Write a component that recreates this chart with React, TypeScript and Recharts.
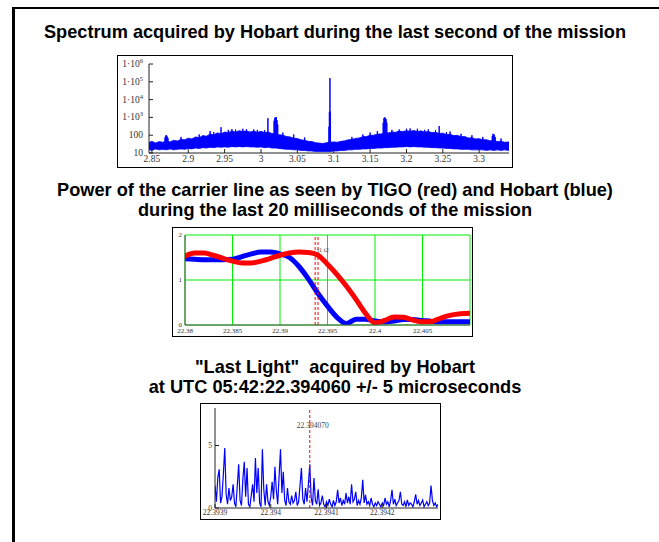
import React from 'react';
import { ComposedChart, LineChart, Line, Area, XAxis, YAxis, CartesianGrid, ReferenceLine } from 'recharts';

// ---------- Chart 1: spectrum (log scale) ----------
const specX = [
  2.845, 2.85, 2.855, 2.86, 2.865, 2.87, 2.875, 2.88, 2.885, 2.89,
  2.895, 2.9, 2.905, 2.91, 2.915, 2.92, 2.925, 2.93, 2.935, 2.94,
  2.945, 2.95, 2.955, 2.96, 2.965, 2.97, 2.975, 2.98, 2.985, 2.99,
  2.995, 3.0, 3.005, 3.01, 3.015, 3.02, 3.025, 3.03, 3.035, 3.04,
  3.045, 3.05, 3.055, 3.06, 3.065, 3.07, 3.075, 3.08, 3.085, 3.09,
  3.095, 3.1, 3.105, 3.11, 3.115, 3.12, 3.125, 3.13, 3.135, 3.14,
  3.145, 3.15, 3.155, 3.16, 3.165, 3.17, 3.175, 3.18, 3.185, 3.19,
  3.195, 3.2, 3.205, 3.21, 3.215, 3.22, 3.225, 3.23, 3.235, 3.24,
  3.245, 3.25, 3.255, 3.26, 3.265, 3.27, 3.275, 3.28, 3.285, 3.29,
  3.295, 3.3, 3.305, 3.31, 3.315, 3.32, 3.325, 3.33, 3.335, 3.34, 3.345,
];
const specHi = [
  38, 45, 36, 44, 40, 48, 42, 52, 47, 58,
  55, 68, 62, 80, 72, 95, 88, 115, 105, 135,
  120, 150, 140, 170, 150, 180, 160, 175, 150, 170,
  145, 165, 140, 150, 125, 120, 105, 100, 85, 80,
  68, 65, 55, 52, 45, 44, 38, 36, 34, 38,
  40, 42, 40, 45, 48, 55, 58, 66, 70, 82,
  85, 98, 100, 115, 118, 130, 135, 150, 145, 170,
  160, 180, 165, 185, 160, 175, 150, 160, 140, 145,
  125, 130, 110, 112, 95, 98, 82, 85, 70, 72,
  62, 64, 55, 56, 48, 50, 44, 46, 40, 42, 38,
];
const specLo = [
  16, 14, 17, 15, 16, 15, 17, 15, 16, 17,
  16, 18, 17, 19, 18, 20, 19, 21, 20, 22,
  21, 22, 21, 23, 22, 23, 22, 23, 22, 22,
  21, 22, 20, 21, 19, 19, 18, 17, 16, 16,
  15, 15, 14, 14, 13, 13, 12, 12, 12, 12,
  12, 13, 13, 14, 14, 15, 15, 16, 16, 17,
  17, 18, 18, 19, 19, 20, 20, 21, 21, 22,
  22, 23, 22, 23, 22, 22, 21, 21, 20, 20,
  19, 19, 18, 18, 17, 17, 16, 16, 16, 15,
  15, 15, 15, 14, 15, 14, 15, 14, 15, 14, 15,
];
// narrow lines standing out of the noise band (sorted by frequency)
const spikeX = [
  2.868, 2.869, 2.87, 2.871, 2.872,
  2.89, 2.915, 2.93, 2.935, 2.945, 2.955, 2.96, 2.965, 2.975, 2.98, 2.99, 2.995, 3.005,
  3.0095, 3.018, 3.019, 3.02, 3.021, 3.022, 3.023,
  3.03, 3.045, 3.06,
  3.0935, 3.094, 3.0945, 3.0948, 3.095, 3.0955,
  3.125, 3.14, 3.15, 3.16,
  3.168, 3.169, 3.17, 3.171, 3.172, 3.173,
  3.18, 3.19, 3.2, 3.205, 3.215, 3.225, 3.23, 3.24, 3.245, 3.255, 3.26, 3.275, 3.29, 3.305,
  3.318, 3.319, 3.32, 3.321, 3.322, 3.33,
];
const spikeTop = [
  75, 95, 100, 85, 70,
  80, 110, 170, 150, 280, 200, 220, 210, 230, 220, 210, 200, 190,
  900, 650, 950, 1000, 1050, 700, 400,
  140, 110, 75,
  300, 2000, 2200, 160000, 1800, 400,
  80, 110, 140, 170,
  500, 900, 1000, 950, 800, 500,
  200, 210, 230, 240, 230, 200, 210, 190, 330, 150, 160, 120, 100, 80,
  90, 120, 110, 105, 80, 65,
];
const SPIKE_BASE = 25;
const specXTicks = [2.85, 2.9, 2.95, 3, 3.05, 3.1, 3.15, 3.2, 3.25, 3.3];
const specYTicks = [10, 100, 1000, 10000, 100000, 1000000];

// ---------- Chart 2: carrier power ----------
const carrierT = [
  22.38, 22.381, 22.382, 22.383, 22.384, 22.385, 22.386, 22.387, 22.388, 22.389,
  22.39, 22.391, 22.392, 22.393, 22.394, 22.395, 22.396, 22.397, 22.398, 22.399,
  22.4, 22.401, 22.402, 22.403, 22.404, 22.405, 22.406, 22.407, 22.408, 22.409, 22.41,
];
const hobartPower = [
  1.47, 1.46, 1.45, 1.45, 1.45, 1.46, 1.52, 1.58, 1.62, 1.62,
  1.58, 1.5, 1.3, 1.02, 0.7, 0.42, 0.17, 0.03, 0.13, 0.13,
  0.09, 0.07, 0.09, 0.12, 0.12, 0.1, 0.08, 0.07, 0.07, 0.07, 0.07,
];
const tigoPower = [
  1.53, 1.6, 1.6, 1.55, 1.48, 1.42, 1.38, 1.38, 1.42, 1.48,
  1.55, 1.6, 1.62, 1.61, 1.55, 1.35, 1.12, 0.86, 0.57, 0.26,
  0.05, 0.1, 0.18, 0.17, 0.11, 0.07, 0.08, 0.16, 0.22, 0.25, 0.26,
];
const carrierXTicks = [22.38, 22.385, 22.39, 22.395, 22.4, 22.405];
const carrierYTicks = [0, 1, 2];
const T1 = 22.3937;
const T2 = 22.394;

// ---------- Chart 3: last light ----------
const LL_T0 = 22.3939;
const LL_DT = 0.0000025;
const lastLight = [
  1.8, 0.5, 2.4, 3.1, 0.4, 0.9, 2.7, 4.8, 1.1, 0.3,
  1.6, 0.6, 0.9, 1.9, 0.4, 0.1, 1.8, 3.5, 0.6, 0.2,
  2.3, 3.7, 0.9, 3.2, 0.3, 0.1, 1.0, 1.9, 0.5, 4.0,
  1.2, 3.2, 0.4, 0.1, 4.7, 1.5, 0.2, 1.9, 0.5, 0.2,
  0.9, 2.1, 0.7, 3.3, 1.4, 0.3, 2.6, 4.7, 1.2, 2.9,
  0.6, 0.2, 1.6, 0.5, 0.3, 1.0, 0.4, 0.6, 1.3, 0.2,
  0.5, 1.8, 3.2, 0.7, 0.3, 1.6, 0.5, 1.9, 3.5, 0.8,
  0.2, 2.4, 0.6, 0.3, 1.5, 0.2, 0.4, 1.0, 0.3, 0.1,
  0.5, 0.2, 0.7, 0.3, 0.1, 0.6, 0.2, 0.5, 1.45, 0.4,
  0.8, 0.2, 0.6, 0.3, 1.2, 0.4, 0.9, 0.3, 1.9, 0.5,
  0.7, 1.3, 0.2, 0.6, 0.3, 0.8, 2.25, 0.4, 1.05, 0.3,
  0.5, 0.2, 0.8, 0.3, 0.1, 0.4, 0.2, 0.5, 0.3, 0.1,
  0.4, 0.2, 0.8, 0.3, 0.5, 0.1, 0.6, 1.45, 0.3, 0.7,
  0.2, 0.4, 0.6, 1.3, 0.3, 0.2, 0.5, 0.1, 0.65, 0.2,
  0.4, 0.3, 0.1, 0.5, 1.1, 0.3, 0.6, 0.2, 0.4, 0.65,
  0.1, 0.3, 0.5, 0.2, 0.4, 1.8, 0.6, 0.2, 0.4, 0.1, 0.3,
];
const llXTicks = [22.3939, 22.394, 22.3941, 22.3942];
const llYTicks = [0, 5];
const LAST_LIGHT_T = 22.39407;
const LAST_LIGHT_LABEL = '22.394070';

// ---------- tables ----------
const bandData = specX.map((x, i) => ({ x, band: [specLo[i], specHi[i]] }));
const spikeData = spikeX.flatMap((x, i) => [
  { x, v: SPIKE_BASE },
  { x, v: spikeTop[i] },
  { x, v: SPIKE_BASE },
]);
const carrierData = carrierT.map((t, i) => ({ t, hobart: hobartPower[i], tigo: tigoPower[i] }));
const llData = lastLight.map((v, i) => ({ t: LL_T0 + i * LL_DT, v }));

const SERIF = '"Liberation Serif", "Times New Roman", serif';
const SANS = '"Liberation Sans", Arial, sans-serif';
const TICK_COLOR = '#333';

const SpecYTick = (props: any) => {
  const { x, y, payload } = props;
  const v = payload.value as number;
  const exp = Math.round(Math.log10(v));
  if (exp <= 2) {
    return (
      <text x={x} y={y} dy={3} textAnchor="end" fontFamily={SERIF} fontSize={9.5} fill={TICK_COLOR}>
        {String(v)}
      </text>
    );
  }
  return (
    <text x={x} y={y} dy={3} textAnchor="end" fontFamily={SERIF} fontSize={9.5} fill={TICK_COLOR}>
      <tspan>1·10</tspan>
      <tspan dy={-4} fontSize={6.5}>{exp}</tspan>
    </text>
  );
};

const RefLabel = (props: any) => {
  const { viewBox, text, dy, dx, size } = props;
  if (!viewBox) return null;
  return (
    <text x={viewBox.x + (dx || 0)} y={viewBox.y + dy} textAnchor="middle" fontFamily={SERIF} fontSize={size} fill="#444">
      {text}
    </text>
  );
};

const titleStyle: React.CSSProperties = {
  position: 'absolute',
  left: 0,
  width: 670,
  textAlign: 'center',
  fontFamily: SANS,
  fontWeight: 700,
  fontSize: 18.2,
  lineHeight: '20px',
  color: '#000',
  whiteSpace: 'pre',
};

const frame = (left: number, top: number, width: number, height: number): React.CSSProperties => ({
  position: 'absolute',
  left,
  top,
  width,
  height,
  border: '1.5px solid #000',
  boxSizing: 'border-box',
  pointerEvents: 'none',
});

const abs = (left: number, top: number): React.CSSProperties => ({ position: 'absolute', left, top });

export default function App() {
  const tickStyle1 = { fontFamily: SERIF, fontSize: 9.5, fill: TICK_COLOR };
  const tickStyle2 = { fontFamily: SERIF, fontSize: 7, fill: TICK_COLOR };
  const tickStyle3 = { fontFamily: SERIF, fontSize: 7.5, fill: TICK_COLOR };
  const specDomain: [number, number] = [2.846, 3.341];
  const llDomain: [number, number] = [22.3939, 22.3943];
  return (
    <div style={{ position: 'absolute', left: 0, top: 0, width: 659, height: 542, background: '#fff', overflow: 'hidden' }}>
      {/* page frame */}
      <div style={{ position: 'absolute', left: 12, top: 7, width: 700, height: 600, borderTop: '2px solid #000', borderLeft: '3px solid #000' }} />

      <div style={{ ...titleStyle, top: 22 }}>Spectrum acquired by Hobart during the last second of the mission</div>

      {/* chart 1 */}
      <div style={abs(117, 55)}>
        <ComposedChart width={396} height={113} data={bandData} margin={{ top: 9, right: 4, bottom: 0, left: 2 }}>
          <XAxis dataKey="x" type="number" domain={specDomain} allowDataOverflow ticks={specXTicks}
            tickSize={-4} tickMargin={6} height={15} stroke="#222" tick={tickStyle1} interval={0} />
          <XAxis xAxisId="top" orientation="top" type="number" domain={specDomain} allowDataOverflow ticks={specXTicks}
            tickSize={-4} height={0} stroke="#222" tickFormatter={() => ''} interval={0} />
          <YAxis type="number" scale="log" domain={[10, 1000000]} allowDataOverflow ticks={specYTicks}
            tickSize={-4} tickMargin={10} width={30} stroke="#222" tick={<SpecYTick />} interval={0} />
          <YAxis yAxisId="right" orientation="right" type="number" scale="log" domain={[10, 1000000]} allowDataOverflow
            ticks={specYTicks} tickSize={-4} width={0} stroke="#222" tickFormatter={() => ''} interval={0} />
          <Area dataKey="band" type="linear" stroke="#0000ff" strokeWidth={0.8} fill="#0000ff" fillOpacity={1}
            isAnimationActive={false} dot={false} activeDot={false} />
          <Line data={spikeData} dataKey="v" type="linear" stroke="#0000ff" strokeWidth={1} dot={false}
            activeDot={false} isAnimationActive={false} />
        </ComposedChart>
      </div>
      <div style={frame(117, 55, 396, 113)} />

      <div style={{ ...titleStyle, top: 180 }}>
        {'Power of the carrier line as seen by TIGO (red) and Hobart (blue)\nduring the last 20 milliseconds of the mission'}
      </div>

      {/* chart 2 */}
      <div style={abs(172, 227)}>
        <LineChart width={301} height={110} data={carrierData} margin={{ top: 8, right: 3, bottom: 0, left: 1 }}>
          <CartesianGrid stroke="#00ee00" strokeWidth={1} />
          <XAxis dataKey="t" type="number" domain={[22.38, 22.41]} allowDataOverflow ticks={carrierXTicks}
            tickLine={false} tickSize={0} tickMargin={3} height={12} stroke="#555" tick={tickStyle2} interval={0} />
          <XAxis xAxisId="top" orientation="top" type="number" domain={[22.38, 22.41]} allowDataOverflow
            ticks={carrierXTicks} tickLine={false} height={0} stroke="#555" tickFormatter={() => ''} interval={0} />
          <YAxis type="number" domain={[0, 2]} allowDataOverflow ticks={carrierYTicks} tickLine={false}
            tickSize={0} tickMargin={3} width={12} stroke="#555" tick={tickStyle2} interval={0} />
          <YAxis yAxisId="right" orientation="right" type="number" domain={[0, 2]} allowDataOverflow
            ticks={carrierYTicks} tickLine={false} width={0} stroke="#555" tickFormatter={() => ''} interval={0} />
          <Line dataKey="hobart" type="monotone" stroke="#0000ff" strokeWidth={5} dot={false} activeDot={false}
            isAnimationActive={false} />
          <Line dataKey="tigo" type="monotone" stroke="#ff0000" strokeWidth={5} dot={false} activeDot={false}
            isAnimationActive={false} />
          <ReferenceLine x={T1} stroke="#ff0000" strokeWidth={1} strokeDasharray="3 2" />
          <ReferenceLine x={T2} stroke="#ff0000" strokeWidth={1} strokeDasharray="3 2"
            label={<RefLabel text="t1 t2" dy={17} dx={5} size={6.5} />} />
        </LineChart>
      </div>
      <div style={frame(172, 227, 301, 110)} />

      <div style={{ ...titleStyle, top: 357 }}>
        {'"Last Light"  acquired by Hobart\nat UTC 05:42:22.394060 +/- 5 microseconds'}
      </div>

      {/* chart 3 */}
      <div style={abs(200, 403)}>
        <LineChart width={241} height={117} data={llData} margin={{ top: 5, right: 3, bottom: 0, left: 1 }}>
          <XAxis dataKey="t" type="number" domain={llDomain} allowDataOverflow ticks={llXTicks}
            tickSize={-4} tickMargin={6} height={12} stroke="#222" tick={tickStyle3} interval={0} />
          <XAxis xAxisId="top" orientation="top" type="number" domain={llDomain} allowDataOverflow ticks={llXTicks}
            tickSize={-4} height={0} stroke="#222" tickFormatter={() => ''} interval={0} />
          <YAxis type="number" domain={[0, 8]} allowDataOverflow ticks={llYTicks} tickSize={-4} tickMargin={7}
            width={14} stroke="#222" tick={tickStyle3} interval={0} />
          <YAxis yAxisId="right" orientation="right" type="number" domain={[0, 8]} allowDataOverflow ticks={llYTicks}
            tickSize={-4} width={0} stroke="#222" tickFormatter={() => ''} interval={0} />
          <Line dataKey="v" type="linear" stroke="#0000ff" strokeWidth={1.2} dot={false} activeDot={false}
            isAnimationActive={false} />
          <ReferenceLine x={LAST_LIGHT_T} stroke="#ff0000" strokeWidth={1} strokeDasharray="3 2"
            label={<RefLabel text={LAST_LIGHT_LABEL} dy={20} dx={3} size={7.5} />} />
        </LineChart>
      </div>
      <div style={frame(200, 403, 241, 117)} />
    </div>
  );
}
